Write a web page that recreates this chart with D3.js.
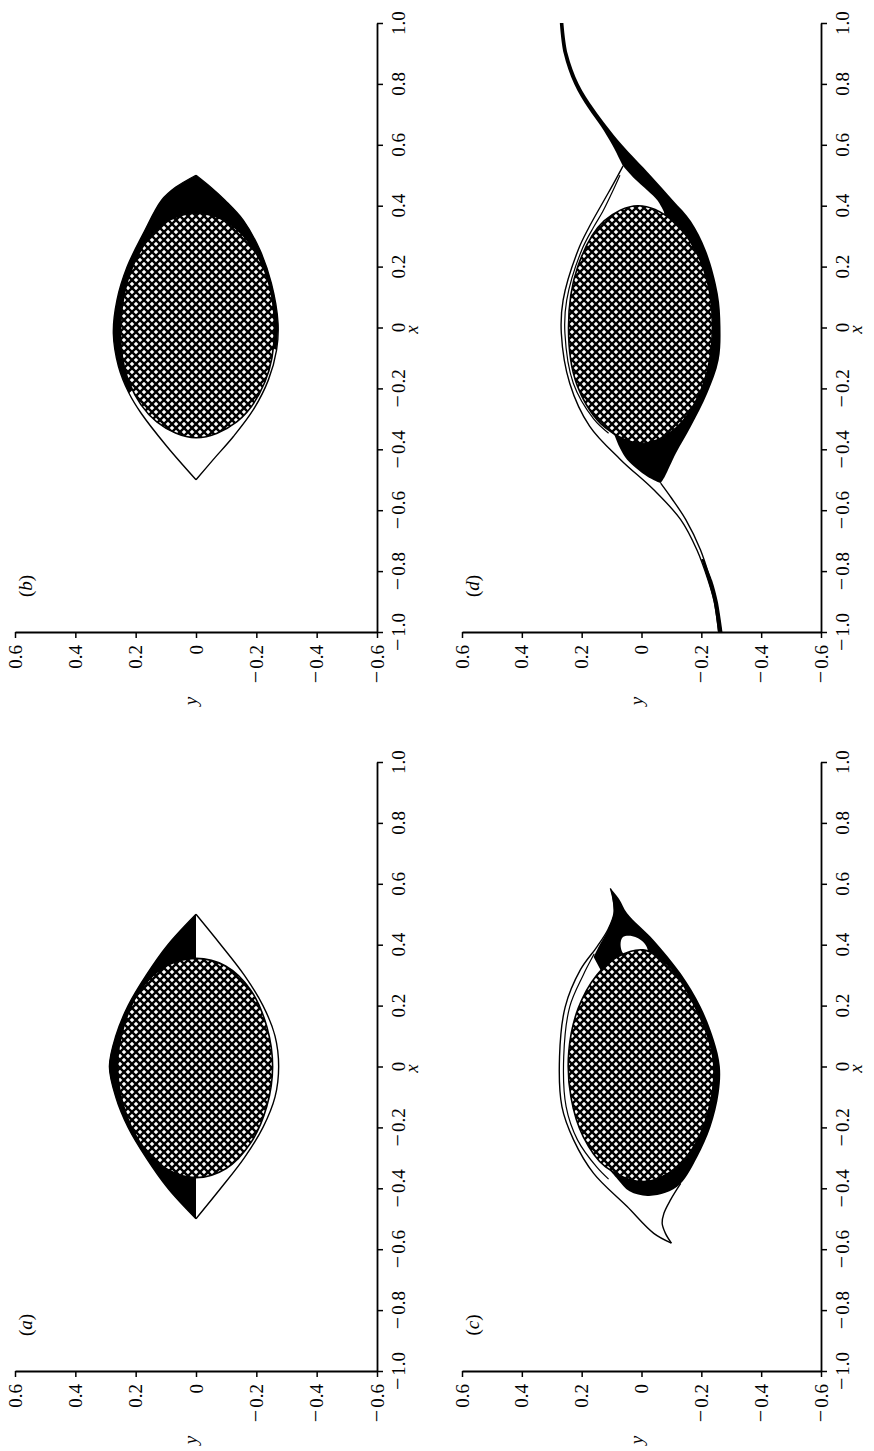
<!DOCTYPE html>
<html>
<head>
<meta charset="utf-8">
<script src="https://cdnjs.cloudflare.com/ajax/libs/d3/7.8.5/d3.min.js"></script>
<style>
  body { margin: 0; background: #fff; }
  svg { display: block; background: #fff; }
  text { font-family: "Liberation Serif", "Times New Roman", serif; fill: #000; }
</style>
</head>
<body>
<svg id="chart" width="874" height="1451"></svg>
<script>
// axis ticks (x runs up the page, y runs right-to-left)
const xTicks = [-1.0, -0.8, -0.6, -0.4, -0.2, 0, 0.2, 0.4, 0.6, 0.8, 1.0];
const yTicks = [0.6, 0.4, 0.2, 0, -0.2, -0.4, -0.6];

// every point is [x, y]

// (a)
const aLensLeft  = [[0.5,0],[0.4,0.093],[0.3,0.165],[0.2,0.225],[0.1,0.266],[0,0.287],[-0.1,0.266],[-0.2,0.225],[-0.3,0.165],[-0.4,0.093],[-0.5,0]];
const aLensRight = [[0.5,0],[0.4,-0.082],[0.3,-0.16],[0.2,-0.222],[0.1,-0.262],[0,-0.274],[-0.1,-0.262],[-0.2,-0.222],[-0.3,-0.16],[-0.4,-0.082],[-0.5,0]];
const aCore = [[0.355,0],[0.33,0.1],[0.25,0.185],[0.13,0.24],[0,0.26],[-0.13,0.24],[-0.25,0.185],[-0.335,0.1],[-0.365,0],[-0.335,-0.1],[-0.25,-0.182],[-0.13,-0.235],[0,-0.254],[0.13,-0.235],[0.25,-0.182],[0.33,-0.098]];

// (b)
const bLeft  = [[0.5,0],[0.46,0.068],[0.418,0.114],[0.31,0.174],[0.2,0.228],[0.09,0.262],[-0.02,0.274],[-0.128,0.257],[-0.216,0.222],[-0.28,0.183],[-0.39,0.097],[-0.5,0]];
const bRight = [[0.5,0],[0.46,-0.05],[0.418,-0.096],[0.352,-0.157],[0.254,-0.212],[0.145,-0.25],[0.014,-0.272],[-0.074,-0.267],[-0.172,-0.24],[-0.27,-0.19],[-0.358,-0.124],[-0.434,-0.057],[-0.5,0]];
const bBlackInner = [[-0.04,-0.2],[0,0],[-0.15,0.15]];
const bCore = [[0.375,0],[0.335,0.115],[0.2,0.21],[0,0.25],[-0.18,0.222],[-0.31,0.13],[-0.362,0],[-0.31,-0.135],[-0.18,-0.228],[0,-0.26],[0.2,-0.222],[0.335,-0.12]];

// (c)
const cHornLeft = [[0.36,0.16],[0.39,0.145],[0.45,0.112],[0.503,0.093],[0.55,0.097],[0.585,0.104]];
const cBand = [[0.585,0.104],[0.55,0.075],[0.503,0.048],[0.415,-0.041],[0.306,-0.131],[0.196,-0.198],[0.087,-0.242],[0,-0.262],[-0.088,-0.258],[-0.198,-0.231],[-0.296,-0.187],[-0.384,-0.131],[-0.415,-0.08],[-0.425,-0.02],[-0.41,0.04],[-0.37,0.08],[-0.3,0.14]];
const cBlackInner = [[-0.1,0.05],[0.25,0.1]];
const cNotch = [[0.425,0.062],[0.428,0.03],[0.41,-0.005],[0.38,-0.02],[0.355,0.02],[0.37,0.06],[0.4,0.07]];
const cOuter = [[0.585,0.104],[0.55,0.095],[0.503,0.092],[0.45,0.112],[0.393,0.149],[0.318,0.204],[0.196,0.255],[0.032,0.274],[-0.132,0.266],[-0.241,0.227],[-0.351,0.16],[-0.46,0.048],[-0.548,-0.041],[-0.58,-0.1]];
const cInner = [[0.37,0.158],[0.3,0.195],[0.196,0.24],[0.032,0.26],[-0.132,0.252],[-0.241,0.214],[-0.33,0.15],[-0.37,0.11]];
const cHook = [[-0.384,-0.131],[-0.438,-0.097],[-0.482,-0.075],[-0.515,-0.069],[-0.548,-0.08],[-0.58,-0.1]];
const cCore = [[0.383,-0.005],[0.36,0.08],[0.3,0.15],[0.19,0.212],[0.05,0.243],[-0.1,0.236],[-0.23,0.195],[-0.33,0.12],[-0.378,0],[-0.35,-0.09],[-0.27,-0.17],[-0.14,-0.225],[0,-0.242],[0.087,-0.225],[0.19,-0.182],[0.3,-0.118],[0.36,-0.055]];

// (d)
const dTailLeft = [[1.0,0.273],[0.9,0.26],[0.8,0.225],[0.72,0.178],[0.66,0.135],[0.6,0.098],[0.55,0.072],[0.53,0.062]];
const dLobeInner = [[0.53,0.062],[0.49,0.025],[0.45,-0.02],[0.418,-0.053],[0.38,-0.075]];
const dBlackInner = [[0.2,-0.1],[-0.2,-0.05],[-0.33,0.09]];
const dBlobLeft = [[-0.347,0.093],[-0.4,0.07],[-0.434,0.048],[-0.489,-0.019],[-0.511,-0.064]];
const dRight = [[-0.511,-0.064],[-0.489,-0.078],[-0.413,-0.115],[-0.325,-0.165],[-0.216,-0.22],[-0.107,-0.258],[0.003,-0.264],[0.112,-0.255],[0.254,-0.215],[0.35,-0.165],[0.418,-0.105],[0.5,-0.03],[0.6,0.065],[0.66,0.115],[0.72,0.16],[0.8,0.21],[0.9,0.247],[1.0,0.261]];
const dOuter = [[0.53,0.062],[0.47,0.095],[0.418,0.125],[0.33,0.175],[0.254,0.212],[0.09,0.262],[-0.019,0.268],[-0.183,0.24],[-0.325,0.173],[-0.434,0.07],[-0.533,-0.041],[-0.631,-0.131],[-0.73,-0.185],[-0.828,-0.222],[-0.9,-0.243],[-1.0,-0.258]];
const dInner = [[0.5,0.072],[0.44,0.1],[0.38,0.13],[0.33,0.16],[0.254,0.2],[0.09,0.25],[-0.019,0.256],[-0.183,0.228],[-0.3,0.16],[-0.347,0.11]];
const dTailRight = [[-0.511,-0.064],[-0.56,-0.1],[-0.631,-0.148],[-0.73,-0.197],[-0.828,-0.23],[-0.9,-0.25],[-1.0,-0.266]];
const dTailEndTop = [[-0.76,-0.2],[-0.83,-0.222],[-0.9,-0.241],[-1.0,-0.256]];
const dTailEndBottom = [[-1.0,-0.271],[-0.9,-0.255],[-0.83,-0.236],[-0.76,-0.207]];
const dCore = [[0.40,0.012],[0.35,0.125],[0.2,0.213],[0,0.244],[-0.19,0.215],[-0.33,0.12],[-0.38,0],[-0.33,-0.115],[-0.19,-0.205],[0,-0.237],[0.2,-0.205],[0.35,-0.105]];

// where each panel sits on the page
const cols = [{left: 15, right: 377}, {left: 462, right: 821}];
const rows = [{top: 23, bottom: 632}, {top: 762, bottom: 1371}];

const svg = d3.select("#chart");

// cross-hatch for the core
const cell = 8, hole = 2.3;
const pat = svg.append("defs").append("pattern")
    .attr("id", "hatch").attr("patternUnits", "userSpaceOnUse")
    .attr("width", cell).attr("height", cell);
pat.append("rect").attr("width", cell).attr("height", cell).attr("fill", "#000");
[[0,0],[cell,0],[0,cell],[cell,cell],[cell/2,cell/2]].forEach(([cx, cy]) => {
    pat.append("path")
        .attr("d", `M${cx-hole},${cy}L${cx},${cy-hole}L${cx+hole},${cy}L${cx},${cy+hole}Z`)
        .attr("fill", "#fff");
});

function panel(col, row, label, draw) {
    const c = cols[col], r = rows[row];
    const sx = d3.scaleLinear().domain([0.6, -0.6]).range([c.left, c.right]);
    const sy = d3.scaleLinear().domain([-1, 1]).range([r.bottom, r.top]);
    const g = svg.append("g");

    const smooth = d3.line().x(p => sx(p[1])).y(p => sy(p[0])).curve(d3.curveCatmullRom.alpha(0.5));
    const straight = d3.line().x(p => sx(p[1])).y(p => sy(p[0]));
    const closed = d3.line().x(p => sx(p[1])).y(p => sy(p[0])).curve(d3.curveCatmullRomClosed.alpha(0.5));

    // join several runs of points into one filled outline
    const region = parts => parts.map(([pts, isSmooth], i) => {
        const d = (isSmooth ? smooth : straight)(pts);
        return i === 0 ? d : "L" + d.slice(1);
    }).join("") + "Z";

    const h = {
        fill: parts => g.append("path").attr("d", region(parts)).attr("fill", "#000"),
        white: pts => g.append("path").attr("d", closed(pts)).attr("fill", "#fff"),
        core: pts => g.append("path").attr("d", closed(pts))
            .attr("fill", "url(#hatch)").attr("stroke", "#000").attr("stroke-width", 1.6),
        line: (pts, w) => g.append("path").attr("d", smooth(pts))
            .attr("fill", "none").attr("stroke", "#000").attr("stroke-width", w || 1.4)
            .attr("stroke-linejoin", "round")
    };
    draw(h);

    // axes
    const axV = g.append("g").attr("transform", `translate(${c.right},0)`)
        .call(d3.axisRight(sy).tickValues(xTicks).tickSize(6).tickSizeOuter(0).tickFormat(""));
    const axH = g.append("g").attr("transform", `translate(0,${r.bottom})`)
        .call(d3.axisBottom(sx).tickValues(yTicks).tickSize(6).tickSizeOuter(0).tickFormat(""));
    [axV, axH].forEach(a => {
        a.select(".domain").attr("stroke", "#000").attr("stroke-width", 1.8);
        a.selectAll(".tick line").attr("stroke", "#000").attr("stroke-width", 1.5);
    });

    const num = v => v === 0 ? "0" : Math.abs(v).toFixed(1);
    const writeTick = (t, v) => {
        if (v < 0) {
            t.append("tspan").style("font-size", "22px").text("\u2212");
            t.append("tspan").attr("dx", 2).text(num(v));
        } else {
            t.text(num(v));
        }
    };

    xTicks.forEach(v => {
        const t = g.append("text")
            .attr("transform", `translate(${c.right + 28},${sy(v)}) rotate(-90)`)
            .attr("text-anchor", "middle").style("font-size", "19px");
        writeTick(t, v);
    });
    yTicks.forEach(v => {
        const t = g.append("text")
            .attr("transform", `translate(${sx(v)},${r.bottom + 13}) rotate(-90)`)
            .attr("text-anchor", "end").attr("dy", "0.35em").style("font-size", "19px");
        writeTick(t, v);
    });

    // axis titles
    g.append("text")
        .attr("transform", `translate(${c.right + 41},${sy(0) + 2}) rotate(-90)`)
        .attr("text-anchor", "middle").style("font-size", "19px").style("font-style", "italic")
        .text("x");
    g.append("text")
        .attr("transform", `translate(${sx(0) + 1},${r.bottom + 69}) rotate(-90)`)
        .attr("text-anchor", "middle").style("font-size", "19px").style("font-style", "italic")
        .text("y");

    // panel letter
    const lt = g.append("text")
        .attr("transform", `translate(${c.left + 17},${r.bottom - 46}) rotate(-90)`)
        .attr("text-anchor", "middle").style("font-size", "19px");
    lt.append("tspan").text("(");
    lt.append("tspan").style("font-style", "italic").text(label);
    lt.append("tspan").text(")");
}

// (a) bottom left
panel(0, 1, "a", h => {
    h.fill([[aLensLeft, true]]);
    h.core(aCore);
    h.line(aLensLeft);
    h.line(aLensRight);
});

// (b) top left
panel(0, 0, "b", h => {
    h.fill([[bLeft.slice(0, 9).reverse(), true], [bRight.slice(0, 8), true], [bBlackInner, false]]);
    h.core(bCore);
    h.line(bLeft);
    h.line(bRight);
});

// (c) bottom right
panel(1, 1, "c", h => {
    h.fill([[cHornLeft, true], [cBand, true], [cBlackInner, false]]);
    h.white(cNotch);
    h.core(cCore);
    h.line(cOuter);
    h.line(cInner, 1.2);
    h.line(cHook);
});

// (d) top right
panel(1, 0, "d", h => {
    h.fill([[dTailLeft, true], [dLobeInner, true], [dBlackInner, false], [dBlobLeft, true], [dRight, true]]);
    h.fill([[dTailEndTop, true], [dTailEndBottom, true]]);
    h.core(dCore);
    h.line(dOuter);
    h.line(dInner, 1.2);
    h.line(dTailRight);
});
</script>
</body>
</html>
